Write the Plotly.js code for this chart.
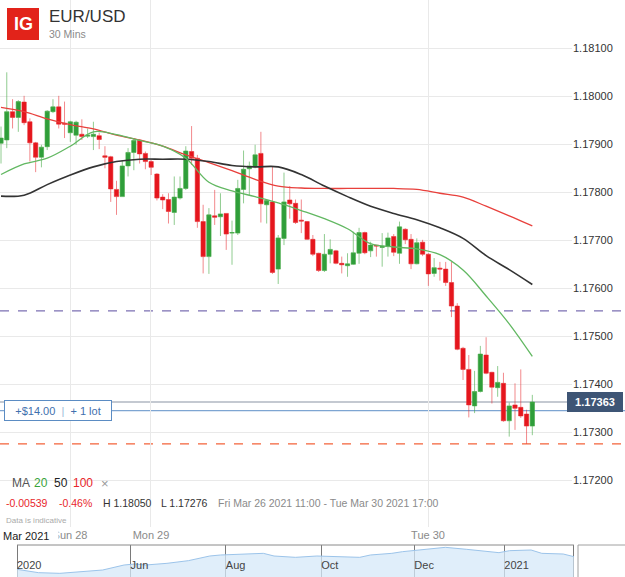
<!DOCTYPE html>
<html>
<head>
<meta charset="utf-8">
<script src="https://cdn.plot.ly/plotly-3.0.1.min.js"></script>
<style>html,body{margin:0;padding:0;background:#fff;}#chart{width:625px;height:577px;}</style>
</head>
<body>
<div id="chart"></div>
<script>
// ---- Data (EUR/USD, 30 min candles) ----
const open = [1.17902,1.17909,1.17968,1.17956,1.17988,1.17947,1.17903,1.17873,1.17895,1.17968,
1.17978,1.17944,1.17924,1.17919,1.17921,1.17917,1.17916,1.17918,1.17876,1.17874,
1.17806,1.17791,1.17855,1.17883,1.17908,1.17881,1.17864,1.17838,1.17790,1.17785,
1.17758,1.17788,1.17808,1.17885,1.17871,1.17739,1.17666,1.17751,1.17749,1.17756,
1.17715,1.17715,1.17806,1.17849,1.17853,1.17881,1.17774,1.17780,1.17640,1.17704,
1.17784,1.17777,1.17742,1.17739,1.17702,1.17673,1.17637,1.17671,1.17678,1.17652,
1.17647,1.17650,1.17673,1.17716,1.17678,1.17690,1.17685,1.17687,1.17708,1.17673,
1.17723,1.17702,1.17651,1.17696,1.17671,1.17631,1.17642,1.17640,1.17612,1.17563,
1.17475,1.17431,1.17355,1.17385,1.17461,1.17425,1.17393,1.17402,1.17324,1.17357,
1.17352,1.17338,1.17313];
const high = [1.17937,1.18050,1.17994,1.17992,1.18001,1.17954,1.17905,1.17899,1.17971,1.17994,
1.18001,1.17989,1.17949,1.17949,1.17952,1.17933,1.17947,1.17924,1.17896,1.17876,
1.17824,1.17867,1.17892,1.17913,1.17910,1.17885,1.17867,1.17840,1.17796,1.17798,
1.17833,1.17833,1.17896,1.17938,1.17878,1.17774,1.17767,1.17805,1.17798,1.17756,
1.17741,1.17826,1.17887,1.17864,1.17899,1.17926,1.17785,1.17853,1.17711,1.17841,
1.17813,1.17785,1.17785,1.17740,1.17711,1.17674,1.17713,1.17702,1.17680,1.17666,
1.17673,1.17718,1.17726,1.17718,1.17697,1.17690,1.17715,1.17716,1.17713,1.17739,
1.17725,1.17713,1.17704,1.17701,1.17673,1.17663,1.17655,1.17655,1.17655,1.17569,
1.17478,1.17461,1.17428,1.17480,1.17498,1.17426,1.17438,1.17424,1.17362,1.17402,
1.17431,1.17347,1.17378];
const low = [1.17860,1.17892,1.17933,1.17926,1.17940,1.17864,1.17842,1.17852,1.17888,1.17965,
1.17933,1.17913,1.17905,1.17899,1.17909,1.17913,1.17888,1.17890,1.17850,1.17780,
1.17753,1.17791,1.17833,1.17846,1.17860,1.17848,1.17836,1.17783,1.17765,1.17735,
1.17732,1.17785,1.17805,1.17857,1.17726,1.17631,1.17630,1.17732,1.17709,1.17680,
1.17649,1.17711,1.17777,1.17794,1.17850,1.17737,1.17735,1.17630,1.17609,1.17690,
1.17745,1.17734,1.17715,1.17701,1.17667,1.17634,1.17634,1.17652,1.17650,1.17631,
1.17624,1.17649,1.17651,1.17671,1.17665,1.17666,1.17645,1.17666,1.17667,1.17651,
1.17692,1.17640,1.17650,1.17667,1.17605,1.17624,1.17616,1.17605,1.17540,1.17471,
1.17409,1.17331,1.17340,1.17383,1.17421,1.17360,1.17374,1.17322,1.17291,1.17305,
1.17330,1.17276,1.17294];
const close = [1.17913,1.17968,1.17956,1.17989,1.17945,1.17903,1.17873,1.17894,1.17969,1.17978,
1.17942,1.17942,1.17947,1.17946,1.17916,1.17919,1.17921,1.17910,1.17873,1.17807,
1.17791,1.17855,1.17883,1.17908,1.17880,1.17864,1.17852,1.17788,1.17784,1.17760,
1.17790,1.17808,1.17886,1.17871,1.17739,1.17666,1.17753,1.17748,1.17755,1.17713,
1.17716,1.17808,1.17848,1.17855,1.17878,1.17776,1.17783,1.17633,1.17705,1.17780,
1.17776,1.17737,1.17740,1.17702,1.17671,1.17637,1.17671,1.17681,1.17652,1.17649,
1.17651,1.17674,1.17716,1.17674,1.17690,1.17688,1.17688,1.17705,1.17675,1.17728,
1.17701,1.17651,1.17695,1.17671,1.17630,1.17643,1.17640,1.17612,1.17563,1.17473,
1.17431,1.17357,1.17385,1.17463,1.17423,1.17394,1.17404,1.17324,1.17355,1.17350,
1.17334,1.17313,1.17363];

// moving averages, read at every 4th candle
const maIdx = [0,4,8,12,16,20,24,28,32,36,40,44,48,52,56,60,64,68,72,76,80,84,88,92];
const ma20 = [1.17837,1.17859,1.17871,1.17896,1.17926,1.17920,1.17908,1.17896,1.17871,1.17821,1.17803,1.17791,1.17778,1.17762,1.17745,1.17724,1.17693,1.17686,1.17682,1.17670,1.17638,1.17584,1.17526,1.17458];
const ma50 = [1.17792,1.17794,1.17816,1.17836,1.17853,1.17864,1.17869,1.17869,1.17869,1.17864,1.17856,1.17853,1.17853,1.17837,1.17813,1.17791,1.17771,1.17756,1.17743,1.17726,1.17704,1.17668,1.17639,1.17608];
const ma100 = [1.17977,1.17968,1.17953,1.17941,1.17932,1.17919,1.17909,1.17896,1.17878,1.17862,1.17845,1.17827,1.17813,1.17809,1.17808,1.17808,1.17808,1.17808,1.17806,1.17798,1.17790,1.17771,1.17751,1.17730];

// price levels
const lastPrice = 1.17363;
const positionLevel = 1.17345;
const alertLevel = 1.17553;
const lowLevel = 1.17276;

// time axis labels (candle index positions of day boundaries)
const dayTickVals = [11.95, 25.97, 73.94];
const dayTickText = ['Sun 28', 'Mon 29', 'Tue 30'];

// navigator (one year overview)
const navWeek = [0,2,4,6,8,10,11,12,14,16,18,19,21,23,24,26,28,30,32,33,35,36,38,39,40,42,44,45,46,48,49,51,52];
const navRate = [1.0954,1.0743,1.0700,1.0806,1.0912,1.1229,1.1292,1.1229,1.1335,1.1504,1.1800,1.1864,1.1906,1.1969,1.1800,1.1715,1.1800,1.1758,1.1715,1.1864,1.1969,1.2075,1.2223,1.2287,1.2350,1.2223,1.2054,1.2012,1.2138,1.2181,1.1969,1.1927,1.1758];
const navTickVals = [0, 10.6, 19.5, 28.4, 37.1, 45.5, 52];
const navTickText = ['2020', 'Jun', 'Aug', 'Oct', 'Dec', '2021', ''];

const candleIdx = open.map((_, i) => i);

const FONT = 'Liberation Sans, Arial, sans-serif';
const W = 625, H = 577;
const px = v => v / W;          // horizontal pixel -> paper
const py = v => 1 - v / H;      // vertical pixel -> paper

function label(x, y, text, size, color, extra) {
  return Object.assign({xref: 'paper', yref: 'paper', x: px(x), y: py(y), xanchor: 'left', yanchor: 'middle',
    text: text, showarrow: false, font: {family: FONT, size: size, color: color}}, extra || {});
}

const traces = [
  {
    type: 'candlestick', x: candleIdx, open: open, high: high, low: low, close: close,
    xaxis: 'x', yaxis: 'y', hoverinfo: 'skip',
    increasing: {line: {color: 'rgba(70,170,70,0.6)', width: 1}, fillcolor: '#2f9e3a'},
    decreasing: {line: {color: 'rgba(232,40,46,0.55)', width: 1}, fillcolor: '#e5161d'},
    whiskerwidth: 0
  },
  {type: 'scatter', mode: 'lines', x: maIdx, y: ma100, xaxis: 'x', yaxis: 'y',
   line: {color: '#e8403c', width: 1.3, shape: 'spline'}, hoverinfo: 'skip'},
  {type: 'scatter', mode: 'lines', x: maIdx, y: ma50, xaxis: 'x', yaxis: 'y',
   line: {color: '#333333', width: 1.6, shape: 'spline'}, hoverinfo: 'skip'},
  {type: 'scatter', mode: 'lines', x: maIdx, y: ma20, xaxis: 'x', yaxis: 'y',
   line: {color: '#62b862', width: 1.3, shape: 'spline'}, hoverinfo: 'skip'},
  {type: 'scatter', mode: 'lines', x: navWeek, y: navRate, xaxis: 'x2', yaxis: 'y2',
   fill: 'tozeroy', fillcolor: 'rgba(214,232,248,0.75)',
   line: {color: '#9cc4ea', width: 1}, hoverinfo: 'skip'}
];

const layout = {
  width: W, height: H,
  margin: {l: 0, r: 0, t: 0, b: 0},
  paper_bgcolor: '#ffffff', plot_bgcolor: '#ffffff',
  showlegend: false,
  boxgap: 0.25, boxgroupgap: 0,
  font: {family: FONT, size: 11, color: '#333'},
  xaxis: {
    domain: [0, 572 / W], anchor: 'y',
    range: [-0.173, 98.87],
    tickvals: dayTickVals, ticktext: dayTickText,
    showgrid: true, gridcolor: '#e9e9e9', gridwidth: 1,
    zeroline: false, showline: false, ticks: '',
    tickfont: {family: FONT, size: 11, color: '#8a8a8a'},
    rangeslider: {visible: false}, fixedrange: true, automargin: false
  },
  yaxis: {
    domain: [50 / H, 1], anchor: 'x', side: 'right',
    range: [1.1710271, 1.1820063],
    tick0: 1.172, dtick: 0.001, tickformat: '.5f',
    showgrid: true, gridcolor: '#e9e9e9', gridwidth: 1,
    zeroline: false, showline: false, ticks: '',
    tickfont: {family: FONT, size: 11, color: '#333'},
    fixedrange: true, automargin: false
  },
  xaxis2: {
    domain: [0, 1], anchor: 'y2',
    range: [-1.587, 56.77],
    tickvals: navTickVals, ticktext: navTickText,
    ticklabelposition: 'inside right',
    showgrid: true, gridcolor: '#7a7a7a', gridwidth: 1,
    zeroline: false, showline: false, ticks: '',
    tickfont: {family: FONT, size: 11, color: '#444'},
    fixedrange: true, automargin: false
  },
  yaxis2: {
    domain: [0, 32 / H], anchor: 'x2',
    range: [1.0468, 1.2498],
    visible: false, fixedrange: true
  },
  shapes: [
    {type: 'line', xref: 'paper', yref: 'y', x0: 0, x1: 1, y0: alertLevel, y1: alertLevel,
     line: {color: '#7c70b3', width: 1.2, dash: 'dash'}, layer: 'between'},
    {type: 'line', xref: 'paper', yref: 'y', x0: 0, x1: 1, y0: lowLevel, y1: lowLevel,
     line: {color: '#f4633a', width: 1.2, dash: 'dash'}, layer: 'between'},
    {type: 'line', xref: 'paper', yref: 'y', x0: 0, x1: px(568), y0: lastPrice, y1: lastPrice,
     line: {color: '#c4c9d1', width: 2}, layer: 'between'},
    {type: 'line', xref: 'paper', yref: 'y', x0: 0, x1: 1, y0: positionLevel, y1: positionLevel,
     line: {color: '#7ea5d2', width: 1.2}, layer: 'between'},
    // IG logo box
    {type: 'rect', xref: 'paper', yref: 'paper', x0: px(7), x1: px(39), y0: py(40), y1: py(8),
     fillcolor: '#e2231a', line: {width: 0}},
    // navigator frame top
    {type: 'line', xref: 'x2', yref: 'paper', x0: navTickVals[0], x1: navTickVals[navTickVals.length - 1],
     y0: 32 / H, y1: 32 / H, line: {color: '#8a8a8a', width: 1}},
    // navigator handle box
    {type: 'rect', xref: 'paper', yref: 'paper', x0: px(578), x1: px(628), y0: -0.01, y1: 32 / H,
     fillcolor: '#ffffff', line: {color: '#a0a0a0', width: 1}}
  ],
  annotations: [
    label(23, 24.5, '<b>IG</b>', 18, '#ffffff', {xanchor: 'center'}),
    label(47, 17, 'EUR/USD', 17, '#333'),
    label(47, 34, '30 Mins', 10.5, '#8a8a8a'),
    // position box
    {xref: 'paper', yref: 'y', x: px(4), y: positionLevel, xanchor: 'left', yanchor: 'middle',
     text: '+$14.00  <span style="color:#9db8d8">|</span>  + 1 lot', showarrow: false,
     width: 100, height: 13, align: 'center', borderpad: 3,
     bgcolor: '#ffffff', bordercolor: '#5b8cc3', borderwidth: 1,
     font: {family: FONT, size: 11, color: '#3f70ae'}},
    // last price label
    {xref: 'paper', yref: 'y', x: px(567), y: lastPrice, xanchor: 'left', yanchor: 'middle',
     text: '<b>1.17363</b>', showarrow: false, width: 50, height: 14, borderpad: 2,
     bgcolor: '#3e5575', bordercolor: '#3e5575', borderwidth: 1,
     font: {family: FONT, size: 11, color: '#ffffff'}},
    // MA legend row
    label(10, 483, 'MA', 12, '#555'),
    label(32, 483, '20', 12, '#3aa33a'),
    label(52, 483, '50', 12, '#222'),
    label(71, 483, '100', 12, '#e8262b'),
    label(99, 483, '×', 13, '#999'),
    // stats row
    label(4, 503, '-0.00539', 10.5, '#e8262b'),
    label(57, 503, '-0.46%', 10.5, '#e8262b'),
    label(101, 503, 'H 1.18050', 10.5, '#333'),
    label(159, 503, 'L 1.17276', 10.5, '#333'),
    label(216, 503, 'Fri Mar 26 2021 11:00 - Tue Mar 30 2021 17:00', 10.5, '#8a8a8a'),
    label(4, 520, 'Data is indicative', 8, '#aaaaaa'),
    // month label over the time axis
    label(1, 536, 'Mar 2021', 11, '#222', {width: 54, align: 'left', borderpad: 1, bgcolor: '#ffffff'})
  ]
};

Plotly.newPlot('chart', traces, layout, {staticPlot: true, displayModeBar: false});
</script>
</body>
</html>
